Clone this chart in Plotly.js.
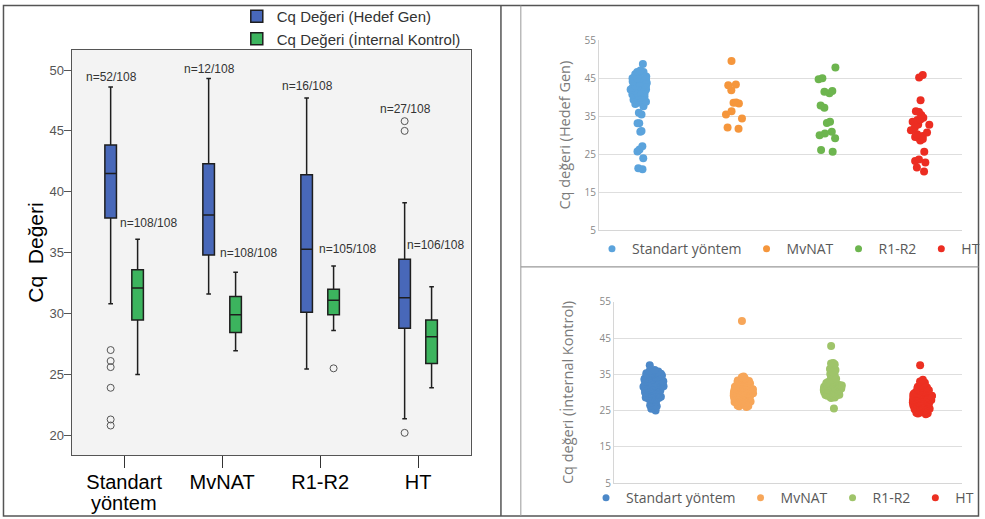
<!DOCTYPE html>
<html>
<head>
<meta charset="utf-8">
<script src="https://cdn.plot.ly/plotly-3.0.1.min.js"></script>
<style>html,body{margin:0;padding:0;background:#fff;}#chart{width:985px;height:519px;}</style>
</head>
<body>
<div id="chart"></div>
<script>
// ---------- Left panel: box plot ----------
const categories = ['Standart yöntem', 'MvNAT', 'R1-R2', 'HT'];
const tickLines1 = ['Standart', 'MvNAT', 'R1-R2', 'HT'];
const tickLine2 = 'yöntem';
const hedefQ1 = [37.85, 34.8, 30.1, 28.8];
const hedefMedian = [41.5, 38.1, 35.27, 31.3];
const hedefQ3 = [43.85, 42.3, 41.4, 34.45];
const hedefLower = [30.8, 31.6, 25.45, 21.35];
const hedefUpper = [48.6, 49.3, 47.7, 39.1];
const hedefOutliers = [[27.0, 26.1, 25.6, 23.9, 21.3, 20.8], [], [], [45.8, 45.0, 20.2]];
const icQ1 = [29.46, 28.45, 29.9, 25.9];
const icMedian = [32.1, 29.9, 31.1, 28.1];
const icQ3 = [33.6, 31.4, 32.0, 29.46];
const icLower = [25.0, 26.95, 28.6, 23.9];
const icUpper = [36.1, 33.4, 33.9, 32.2];
const icOutliers = [[null], [], [25.5], []];
const nHedef = ['n=52/108', 'n=12/108', 'n=16/108', 'n=27/108'];
const nIc = ['n=108/108', 'n=108/108', 'n=105/108', 'n=106/108'];

// ---------- Right panels: strip plots ----------
const groups = ['Standart yöntem', 'MvNAT', 'R1-R2', 'HT'];
const hedefStd = [48.7, 46.6, 46.6, 47.0, 45.0, 45.4, 45.0, 45.0, 43.7, 44.1, 43.7, 42.8, 42.8, 42.8, 42.0, 42.0,
  41.1, 41.1, 41.1, 40.7, 39.8, 40.2, 39.8, 40.2, 39.3, 38.5, 37.6, 35.9, 35.4, 30.9, 33.1, 33.1, 31.1, 26.2,
  25.7, 27.1, 23.9, 21.3, 21.0, 43.3, 44.5, 41.5, 38.8, 46.0, 42.5, 40.5, 39.0, 44.8, 43.0, 41.8, 45.8, 38.2];
const hedefMv = [49.5, 43.1, 43.3, 41.8, 38.5, 38.3, 38.6, 36.3, 35.4, 34.4, 31.7, 32.0];
const hedefR = [47.8, 45.0, 44.7, 41.0, 41.4, 41.6, 37.8, 37.2, 33.2, 33.5, 30.4, 30.9, 30.0, 29.2, 25.6, 26.1];
const hedefHT = [45.8, 45.2, 39.2, 36.3, 36.1, 35.3, 34.6, 34.0, 34.1, 33.5, 32.8, 32.7, 31.3, 32.0, 30.7, 30.2,
  29.5, 29.3, 28.6, 29.8, 25.6, 23.6, 22.8, 23.2, 21.5, 20.4, 29.0];

const icStd = [31.2, 33.8, 29.4, 35.1, 30.7, 32.6, 28.3, 34.4, 31.9, 36.2,
  29.9, 33.1, 32.3, 27.4, 34.9, 30.2, 31.6, 35.6, 28.8, 32.9,
  37.5, 30.5, 33.5, 29.1, 31.4, 34.1, 26.5, 32.1, 35.3, 30.0,
  28.6, 33.3, 31.8, 34.7, 29.6, 32.4, 25.0, 30.9, 33.9, 31.1,
  35.8, 29.2, 32.8, 30.4, 34.2, 28.1, 31.5, 33.6, 27.9, 32.0,
  30.6, 34.6, 31.3, 29.7, 35.0, 32.7, 28.4, 33.0, 30.1, 25.5,
  33.4, 31.7, 29.0, 34.8, 32.2, 30.8, 35.5, 28.9, 31.0, 33.7,
  26.2, 32.5, 30.3, 34.0, 29.5, 31.9, 35.2, 28.7, 33.2, 30.6,
  32.9, 27.2, 34.3, 31.4, 29.8, 33.5, 30.0, 35.4, 28.5, 32.3,
  31.6, 34.5, 29.3, 32.6, 30.7, 33.8, 28.2, 31.2, 34.9, 29.9,
  33.1, 30.4, 32.0, 35.9, 29.6, 31.8, 33.6, 28.0];
const icMv = [29.8, 31.5, 27.6, 33.2, 28.9, 30.4, 26.8, 32.1, 29.2, 49.7,
  30.9, 28.1, 31.8, 27.2, 33.9, 29.5, 30.1, 26.3, 32.6, 28.6,
  34.4, 29.9, 31.2, 27.9, 30.6, 28.4, 33.5, 29.0, 26.0, 31.0,
  30.3, 27.4, 32.4, 29.7, 28.8, 31.6, 27.0, 30.0, 33.0, 28.2,
  29.4, 31.3, 26.6, 30.8, 28.5, 32.9, 29.1, 27.7, 30.5, 31.9,
  28.0, 29.6, 33.7, 27.3, 30.2, 28.7, 31.4, 26.9, 29.3, 32.3,
  30.7, 27.8, 29.8, 31.1, 28.3, 34.2, 30.0, 27.1, 29.5, 32.7,
  26.4, 31.7, 28.9, 30.4, 27.5, 33.3, 29.2, 28.1, 30.9, 31.5,
  29.0, 27.9, 32.0, 28.6, 30.6, 26.7, 31.2, 29.7, 33.6, 28.4,
  30.1, 27.6, 29.4, 31.8, 28.8, 32.5, 30.3, 27.0, 29.9, 28.2,
  31.0, 26.2, 30.7, 29.1, 32.8, 27.4, 30.5, 28.5];
const icR = [31.2, 30.5, 32.4, 29.8, 42.8, 31.7, 30.1, 33.5, 29.3, 31.9,
  30.8, 32.1, 28.7, 31.4, 30.3, 36.9, 29.6, 32.8, 31.0, 30.6,
  38.1, 29.1, 31.5, 30.9, 33.1, 28.9, 32.2, 30.4, 31.8, 29.9,
  25.6, 31.3, 30.0, 32.6, 29.4, 34.8, 30.7, 31.6, 28.6, 32.0,
  30.2, 37.8, 31.1, 29.7, 33.8, 30.5, 31.9, 29.0, 32.3, 30.8,
  31.4, 28.8, 35.6, 30.1, 32.5, 29.5, 31.2, 36.2, 30.6, 31.7,
  29.2, 32.9, 30.3, 31.0, 38.0, 29.8, 31.5, 30.0, 33.3, 28.5,
  31.8, 30.4, 32.2, 29.6, 35.1, 31.3, 30.7, 32.7, 29.9, 31.6,
  30.9, 37.2, 29.3, 31.1, 30.2, 34.3, 31.9, 29.1, 32.4, 30.5,
  31.5, 28.9, 30.8, 33.0, 29.7, 31.2, 36.5, 30.0, 32.1, 29.4,
  30.6, 31.7, 34.6, 29.0, 32.9, 30.3, 37.5, 31.0];
const icHT = [28.2, 26.4, 29.7, 25.1, 30.8, 27.5, 24.3, 29.1, 26.9, 37.5,
  27.8, 31.2, 25.7, 28.6, 26.1, 29.9, 24.8, 27.3, 30.3, 28.0,
  33.5, 26.6, 28.9, 25.4, 29.4, 27.1, 31.6, 24.0, 28.4, 26.2,
  29.6, 25.9, 27.7, 30.1, 26.8, 28.7, 24.6, 32.4, 27.0, 29.2,
  25.3, 28.3, 26.5, 30.6, 27.4, 29.0, 25.8, 31.9, 28.1, 26.0,
  27.9, 24.2, 29.5, 26.7, 28.5, 25.5, 30.4, 27.2, 33.0, 28.8,
  26.3, 29.8, 25.0, 27.6, 31.0, 28.2, 24.5, 29.3, 26.9, 27.8,
  30.0, 25.6, 28.6, 26.4, 32.1, 27.3, 29.1, 24.9, 28.0, 26.1,
  29.7, 27.5, 25.2, 30.7, 28.4, 26.6, 31.4, 24.4, 29.0, 27.1,
  25.9, 28.9, 26.8, 30.2, 27.7, 32.7, 25.4, 29.4, 28.3, 26.5,
  31.3, 27.0, 29.6, 24.7, 28.7, 26.2, 30.5, 27.9];

const hedefSeries = [hedefStd, hedefMv, hedefR, hedefHT];
const icSeries = [icStd, icMv, icR, icHT];

// ---------- styles ----------
const W = 985, H = 519;
const px = v => v / W;
const py = v => 1 - v / H;
const topColors = ['#5ba3dc', '#f5963c', '#6db54f', '#ec2d22'];
const botColors = ['#4c88c8', '#f7a659', '#9fc46a', '#ec3022'];
const leftFont = 'Liberation Sans, Arial, sans-serif';
const rightFont = 'Open Sans, sans-serif';

const traces = [];
traces.push({
  type: 'box', name: 'Cq Değeri (Hedef Gen)', x: categories,
  q1: hedefQ1, median: hedefMedian, q3: hedefQ3, lowerfence: hedefLower, upperfence: hedefUpper,
  y: hedefOutliers, boxpoints: 'outliers', pointpos: 0, jitter: 0,
  fillcolor: '#4868b9', line: {color: '#1e1e1e', width: 1.5}, whiskerwidth: 0.4,
  marker: {symbol: 'circle-open', color: '#555', size: 7, line: {width: 1}},
  offsetgroup: 'a', alignmentgroup: 'g', xaxis: 'x', yaxis: 'y', legend: 'legend', hoverinfo: 'skip'
});
traces.push({
  type: 'box', name: 'Cq Değeri (İnternal Kontrol)', x: categories,
  q1: icQ1, median: icMedian, q3: icQ3, lowerfence: icLower, upperfence: icUpper,
  y: icOutliers, boxpoints: 'outliers', pointpos: 0, jitter: 0,
  fillcolor: '#3cb45e', line: {color: '#1e1e1e', width: 1.5}, whiskerwidth: 0.4,
  marker: {symbol: 'circle-open', color: '#555', size: 7, line: {width: 1}},
  offsetgroup: 'b', alignmentgroup: 'g', xaxis: 'x', yaxis: 'y', legend: 'legend', hoverinfo: 'skip'
});

function addStrips(series, colors, xa, ya, leg, jit) {
  series.forEach((vals, i) => {
    traces.push({
      type: 'box', name: groups[i], y: vals, boxpoints: 'all', pointpos: 0, jitter: jit, width: 0.5,
      fillcolor: 'rgba(0,0,0,0)', line: {width: 0, color: 'rgba(0,0,0,0)'},
      marker: {color: colors[i], size: 8, opacity: 1},
      xaxis: xa, yaxis: ya, showlegend: false, hoverinfo: 'skip'
    });
  });
  groups.forEach((g, i) => {
    traces.push({
      type: 'scatter', mode: 'markers', name: g, x: [null], y: [null],
      marker: {color: colors[i], size: 7}, xaxis: xa, yaxis: ya, legend: leg, hoverinfo: 'skip'
    });
  });
}
addStrips(hedefSeries, topColors, 'x2', 'y2', 'legend2', 0.45);
addStrips(icSeries, botColors, 'x3', 'y3', 'legend3', 0.47);

// annotation positions for n labels (layout)
const hedefLabelY = [49.45, 50.1, 48.7, 46.8];
const icLabelY = [37.44, 34.98, 35.3, 35.6];
const icLabelShift = [24, 26, 27, 17];
const annotations = [];
categories.forEach((c, i) => {
  annotations.push({x: c, y: hedefLabelY[i], xref: 'x', yref: 'y', text: nHedef[i], showarrow: false,
    xshift: -13, yanchor: 'middle', font: {family: leftFont, size: 12, color: '#333'}});
  annotations.push({x: c, y: icLabelY[i], xref: 'x', yref: 'y', text: nIc[i], showarrow: false,
    xshift: icLabelShift[i], yanchor: 'middle', font: {family: leftFont, size: 12, color: '#333'}});
});
// second line of the first category label
annotations.push({x: categories[0], y: py(503), xref: 'x', yref: 'paper', text: tickLine2, showarrow: false,
  yanchor: 'middle', font: {family: leftFont, size: 20, color: '#000'}});

const rightY = (lo, hi, title, standoff) => ({
  domain: [lo, hi], range: [5, 55], tick0: 5, dtick: 10, showgrid: true, gridcolor: '#dedede', gridwidth: 1,
  zeroline: false, showline: true, linecolor: '#d6d6d6', linewidth: 1, ticks: '', ticklabelstandoff: 0,
  tickfont: {family: rightFont, size: 10, color: '#888'},
  title: {text: title, font: {family: rightFont, size: 14.5, color: '#7a7a7a'}, standoff: standoff}
});
const rightX = (lo, hi, anchor) => ({
  domain: [lo, hi], type: 'category', anchor: anchor, showticklabels: false, ticks: '', showgrid: false,
  zeroline: false, showline: true, linecolor: '#d6d6d6', linewidth: 1, categoryorder: 'array', categoryarray: groups
});

const layout = {
  width: W, height: H, margin: {l: 0, r: 0, t: 0, b: 0}, paper_bgcolor: '#fff', plot_bgcolor: 'rgba(0,0,0,0)',
  showlegend: true, boxmode: 'group', boxgap: 0.45, boxgroupgap: 0.57,
  font: {family: leftFont},
  xaxis: {
    domain: [px(72), px(473)], type: 'category', anchor: 'y', showline: true, mirror: true, linecolor: '#555',
    linewidth: 1, ticks: 'outside', ticklen: 12, tickcolor: '#333', showgrid: false, zeroline: false,
    tickvals: categories, ticktext: tickLines1, ticklabelstandoff: -3,
    tickfont: {family: leftFont, size: 20, color: '#000'}
  },
  yaxis: {
    domain: [py(455), py(48)], range: [18.36, 51.66], dtick: 5, anchor: 'x', showline: true, mirror: true,
    linecolor: '#555', linewidth: 1, ticks: 'outside', ticklen: 7, tickcolor: '#555', showgrid: false,
    zeroline: false, tickfont: {family: leftFont, size: 13, color: '#555'}, ticklabelstandoff: -3,
    title: {text: 'Cq\u00a0 Değeri', font: {family: leftFont, size: 21, color: '#000'}, standoff: 0}
  },
  xaxis2: rightX(px(602), px(967), 'y2'),
  yaxis2: Object.assign(rightY(py(229), py(38.3), 'Cq değeri (Hedef Gen)', 10), {anchor: 'x2'}),
  xaxis3: rightX(px(617), px(967), 'y3'),
  yaxis3: Object.assign(rightY(py(483), py(301), 'Cq değeri (İnternal Kontrol)', 22), {anchor: 'x3'}),
  legend: {x: px(238), xanchor: 'left', y: py(-2), yanchor: 'top', orientation: 'v', bgcolor: 'rgba(0,0,0,0)',
    font: {family: leftFont, size: 15, color: '#333'}, traceorder: 'normal'},
  legend2: {x: px(595), xanchor: 'left', y: py(248), yanchor: 'middle', orientation: 'h', bgcolor: 'rgba(0,0,0,0)',
    font: {family: rightFont, size: 14, color: '#595959'}},
  legend3: {x: px(589), xanchor: 'left', y: py(498), yanchor: 'middle', orientation: 'h', bgcolor: 'rgba(0,0,0,0)',
    font: {family: rightFont, size: 14, color: '#595959'}},
  annotations: annotations,
  shapes: [
    {type: 'rect', xref: 'x domain', yref: 'y domain', x0: 0, x1: 1, y0: 0, y1: 1, fillcolor: '#f3f3f3',
      line: {width: 0}, layer: 'below'},
    {type: 'rect', xref: 'paper', yref: 'paper', x0: px(3.5), x1: px(983.5), y0: py(516), y1: py(3.5),
      line: {color: '#555', width: 1.5}},
    {type: 'line', xref: 'paper', yref: 'paper', x0: px(503.5), x1: px(503.5), y0: py(516), y1: py(3.5),
      line: {color: '#555', width: 1.5}},
    {type: 'line', xref: 'paper', yref: 'paper', x0: px(523.5), x1: px(523.5), y0: py(516), y1: py(3.5),
      line: {color: '#999', width: 1}},
    {type: 'line', xref: 'paper', yref: 'paper', x0: px(523.5), x1: px(983.5), y0: py(266), y1: py(266),
      line: {color: '#999', width: 1.2}}
  ]
};

Plotly.newPlot('chart', traces, layout, {displayModeBar: false, responsive: false});
</script>
</body>
</html>
